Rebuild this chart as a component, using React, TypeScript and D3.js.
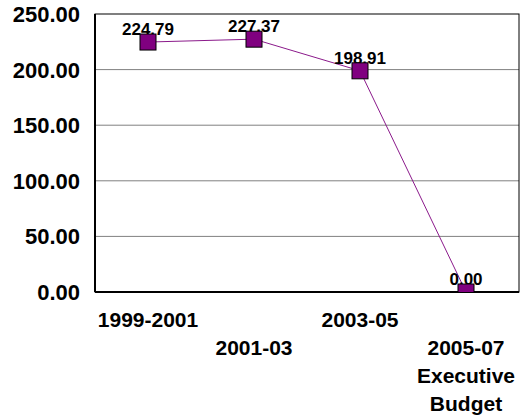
import React, { useEffect, useRef } from "react";
import * as d3 from "d3";

const periods = ["1999-2001", "2001-03", "2003-05", "2005-07"];
const periodLabels = [["1999-2001"], ["2001-03"], ["2003-05"], ["2005-07", "Executive", "Budget"]];
const values = [224.79, 227.37, 198.91, 0.0];
const yTicks = [0, 50, 100, 150, 200, 250];

const App: React.FC = () => {
  const svgRef = useRef<SVGSVGElement>(null);

  useEffect(() => {
    if (!svgRef.current) return;
    const svg = d3.select(svgRef.current);
    svg.selectAll("*").remove();

    const width = 521;
    const height = 417;
    const left = 95;
    const right = 519;
    const top = 14;
    const bottom = 292;
    const font = "Arial, 'Liberation Sans', sans-serif";

    svg.attr("width", width).attr("height", height);

    const x = d3.scaleBand<string>().domain(periods).range([left, right]);
    const y = d3.scaleLinear().domain([0, 250]).range([bottom, top]);
    const cx = (p: string) => (x(p) || 0) + x.bandwidth() / 2;

    svg
      .append("defs")
      .append("clipPath")
      .attr("id", "plot-clip")
      .append("rect")
      .attr("x", left)
      .attr("y", top)
      .attr("width", right - left)
      .attr("height", bottom - top);

    // gridlines
    svg
      .append("g")
      .selectAll("line")
      .data(yTicks.filter((t) => t > 0 && t < 250))
      .join("line")
      .attr("x1", left)
      .attr("x2", right)
      .attr("y1", (d) => y(d))
      .attr("y2", (d) => y(d))
      .attr("stroke", "#808080")
      .attr("stroke-width", 1);

    // frame
    svg
      .append("rect")
      .attr("x", left)
      .attr("y", top)
      .attr("width", right - left)
      .attr("height", bottom - top)
      .attr("fill", "none")
      .attr("stroke", "#000")
      .attr("stroke-width", 1);
    svg
      .append("line")
      .attr("x1", left)
      .attr("x2", left)
      .attr("y1", top)
      .attr("y2", bottom)
      .attr("stroke", "#000")
      .attr("stroke-width", 2);
    svg
      .append("line")
      .attr("x1", left)
      .attr("x2", right)
      .attr("y1", bottom)
      .attr("y2", bottom)
      .attr("stroke", "#000")
      .attr("stroke-width", 2);

    // y tick labels
    svg
      .append("g")
      .selectAll("text")
      .data(yTicks)
      .join("text")
      .attr("x", 80)
      .attr("y", (d) => y(d) + 8)
      .attr("text-anchor", "end")
      .style("font-family", font)
      .style("font-weight", "bold")
      .style("font-size", "22px")
      .text((d) => d.toFixed(2));

    // x labels, staggered
    periods.forEach((p, i) => {
      const base = i % 2 === 0 ? 327 : 355;
      periodLabels[i].forEach((line, j) => {
        svg
          .append("text")
          .attr("x", cx(p))
          .attr("y", base + j * 28)
          .attr("text-anchor", "middle")
          .style("font-family", font)
          .style("font-weight", "bold")
          .style("font-size", "21px")
          .text(line);
      });
    });

    const data = periods.map((p, i) => ({ p, v: values[i] }));

    // line
    const line = d3
      .line<{ p: string; v: number }>()
      .x((d) => cx(d.p))
      .y((d) => y(d.v));
    svg
      .append("path")
      .datum(data)
      .attr("d", line)
      .attr("fill", "none")
      .attr("stroke", "#8b1a8b")
      .attr("stroke-width", 1);

    // data labels
    svg
      .append("g")
      .selectAll("text")
      .data(data)
      .join("text")
      .attr("x", (d) => cx(d.p))
      .attr("y", (d) => y(d.v) - 7)
      .attr("text-anchor", "middle")
      .style("font-family", font)
      .style("font-weight", "bold")
      .style("font-size", "17px")
      .text((d) => d.v.toFixed(2));

    // markers
    const size = 16;
    svg
      .append("g")
      .attr("clip-path", "url(#plot-clip)")
      .selectAll("rect")
      .data(data)
      .join("rect")
      .attr("x", (d) => cx(d.p) - size / 2)
      .attr("y", (d) => y(d.v) - size / 2)
      .attr("width", size)
      .attr("height", size)
      .attr("fill", "#800080")
      .attr("stroke", "#000")
      .attr("stroke-width", 1);
  }, []);

  return <svg ref={svgRef} style={{ position: "absolute", left: 0, top: 0 }} />;
};

export default App;
